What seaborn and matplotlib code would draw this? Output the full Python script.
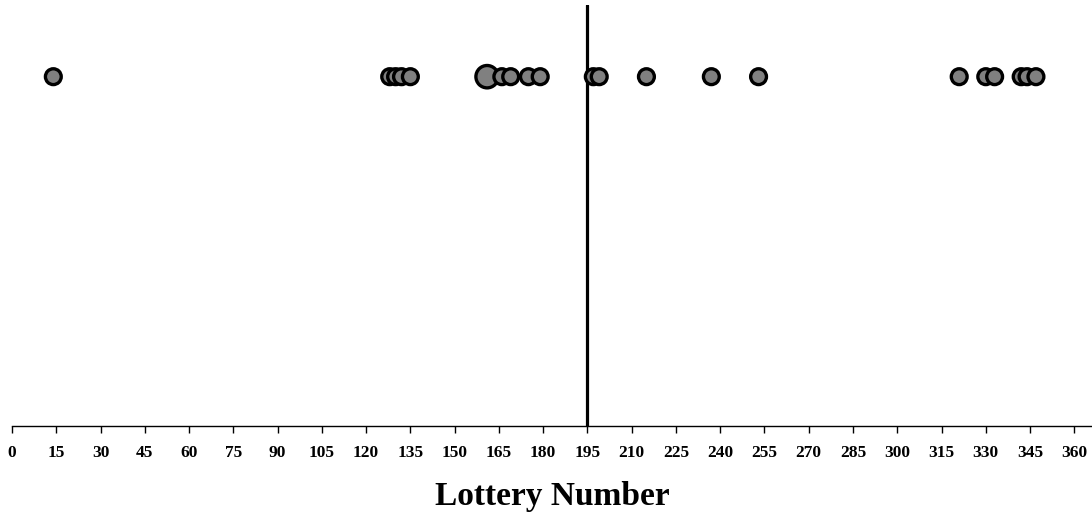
import pandas as pd
import matplotlib
matplotlib.use("Agg")
import matplotlib.pyplot as plt
import seaborn as sns

# lottery numbers; 161 is drawn bigger (two draws)
numbers = [14, 128, 130, 132, 135, 161, 166, 169, 175, 179,
           197, 199, 215, 237, 253, 321, 330, 333, 342, 344, 347]
counts = [1, 1, 1, 1, 1, 2, 1, 1, 1, 1,
          1, 1, 1, 1, 1, 1, 1, 1, 1, 1, 1]
cutoff = 195
tick_values = list(range(0, 361, 15))

sns.set_style("white")
plt.rcParams["font.family"] = ["Liberation Serif", "DejaVu Serif"]
plt.rcParams["text.color"] = "black"
plt.rcParams["xtick.color"] = "black"
plt.rcParams["axes.labelcolor"] = "black"

df = pd.DataFrame({"number": numbers, "count": counts})
df["y"] = 0.83

fig = plt.figure(figsize=(10.92, 5.18), dpi=100)
ax = fig.add_axes([0.011, 0.178, 0.989, 0.812])

ax.axvline(cutoff, color="black", lw=2.3, zorder=1)
sns.scatterplot(data=df, x="number", y="y", size="count", sizes=(130, 260),
                color="#808080", edgecolor="black", linewidth=2.4,
                legend=False, zorder=3, ax=ax)

ax.set_xlim(0, 366)
ax.set_ylim(0, 1)
ax.set_yticks([])
ax.set_xticks(tick_values)
ax.set_xticklabels([str(t) for t in tick_values], fontweight="bold", fontsize=12.5)
ax.tick_params(axis="x", bottom=True, direction="out", length=5, width=1,
               color="black", labelcolor="black", pad=9)
ax.set_xlabel("Lottery Number", fontsize=24, fontweight="bold", labelpad=14,
              color="black")
ax.set_ylabel("")

for side in ["top", "right", "left"]:
    ax.spines[side].set_visible(False)
ax.spines["bottom"].set_color("black")
ax.spines["bottom"].set_linewidth(1)

fig.savefig("out.png", dpi=100)
